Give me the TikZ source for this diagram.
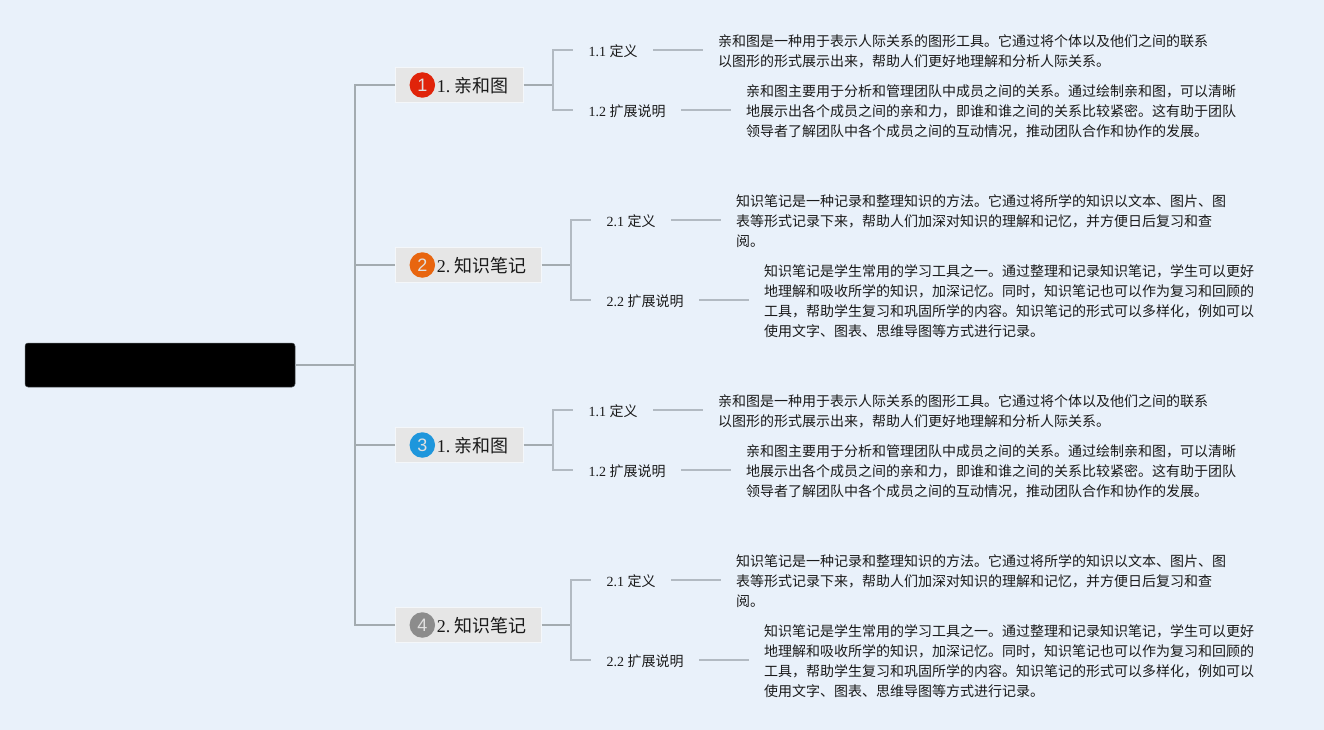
\documentclass[tikz,border=0pt]{standalone}
\usepackage{fontspec}
\setmainfont{Liberation Serif}
\newfontfamily\cjk{Noto Sans CJK SC}
\newfontfamily\badgefont{Liberation Sans}
\definecolor{bgc}{HTML}{E9F1FA}
\definecolor{trunkc}{HTML}{A3ABB0}
\definecolor{twigc}{HTML}{B2BAC2}
\definecolor{boxc}{HTML}{E6E6E6}
\definecolor{boxedge}{HTML}{F4F7FA}
\definecolor{inkc}{HTML}{1A1A1A}
\definecolor{bred}{HTML}{E0240A}
\definecolor{borange}{HTML}{E8650F}
\definecolor{bblue}{HTML}{1E96DC}
\definecolor{bgrey}{HTML}{8C8C8C}
\tikzset{
 trunkline/.style={draw=trunkc,line width=1.5pt},
 twigline/.style={draw=twigc,line width=1.5pt},
 topicbox/.style={fill=boxc,draw=boxedge,line width=1pt,minimum height=35pt,inner sep=0pt},
 badge/.style={circle,minimum size=25.5pt,inner sep=0pt,text=white!88!black,font=\badgefont\fontsize{18}{18}\selectfont},
 topictext/.style={anchor=base west,inner sep=0pt,text=inkc,font=\fontsize{18}{22}\selectfont},
 sublabel/.style={inner sep=0pt,text height=16pt,text depth=3pt,text=inkc,font=\fontsize{14}{18}\selectfont},
 bodytext/.style={anchor=west,inner xsep=15pt,inner ysep=0pt,align=left,text=inkc,font=\cjk\fontsize{14}{20}\selectfont},
}
\newcommand{\blockone}[3]{%
 \node[topicbox,minimum width=128pt] (#1t) at (459,85) {};
 \node[badge,fill=#2] (#1b) at (422.3,85) {#3};
 \node[topictext] (#1n) at (436.7,92.8) {1.\kern4.2pt{\cjk 亲和图}};
 \coordinate (#1h) at (553,85);
 \node[sublabel,minimum width=80pt] (#1a) at (613,50) {1.1 {\cjk 定义}};
 \node[sublabel,minimum width=108pt] (#1c) at (627,110) {1.2 {\cjk 扩展说明}};
 \node[bodytext] (#1x) at (703,51.3) {亲和图是一种用于表示人际关系的图形工具。它通过将个体以及他们之间的联系\\以图形的形式展示出来，帮助人们更好地理解和分析人际关系。};
 \node[bodytext] (#1y) at (731,111.3) {亲和图主要用于分析和管理团队中成员之间的关系。通过绘制亲和图，可以清晰\\地展示出各个成员之间的亲和力，即谁和谁之间的关系比较紧密。这有助于团队\\领导者了解团队中各个成员之间的互动情况，推动团队合作和协作的发展。};
 \draw[trunkline] (#1t.east) -- (#1h);
 \draw[twigline] (#1a.west) -| (#1h) |- (#1c.west);
 \draw[twigline] (#1a.east) -- (#1a.east -| #1x.west);
 \draw[twigline] (#1c.east) -- (#1c.east -| #1y.west);
}
\newcommand{\blocktwo}[3]{%
 \node[topicbox,minimum width=146pt] (#1t) at (468,265) {};
 \node[badge,fill=#2] (#1b) at (422.3,265) {#3};
 \node[topictext] (#1n) at (436.7,272.8) {2.\kern4.2pt{\cjk 知识笔记}};
 \coordinate (#1h) at (571,265);
 \node[sublabel,minimum width=80pt] (#1a) at (631,220) {2.1 {\cjk 定义}};
 \node[sublabel,minimum width=108pt] (#1c) at (645,300) {2.2 {\cjk 扩展说明}};
 \node[bodytext] (#1x) at (721,221.3) {知识笔记是一种记录和整理知识的方法。它通过将所学的知识以文本、图片、图\\表等形式记录下来，帮助人们加深对知识的理解和记忆，并方便日后复习和查\\阅。};
 \node[bodytext] (#1y) at (749,301.3) {知识笔记是学生常用的学习工具之一。通过整理和记录知识笔记，学生可以更好\\地理解和吸收所学的知识，加深记忆。同时，知识笔记也可以作为复习和回顾的\\工具，帮助学生复习和巩固所学的内容。知识笔记的形式可以多样化，例如可以\\使用文字、图表、思维导图等方式进行记录。};
 \draw[trunkline] (#1t.east) -- (#1h);
 \draw[twigline] (#1a.west) -| (#1h) |- (#1c.west);
 \draw[twigline] (#1a.east) -- (#1a.east -| #1x.west);
 \draw[twigline] (#1c.east) -- (#1c.east -| #1y.west);
}
\begin{document}
\begin{tikzpicture}[x=1pt,y=-1pt]
 \fill[bgc] (0,0) rectangle (1324,730);
 \useasboundingbox (0,0) rectangle (1324,730);
 \node[fill=black,draw=black!50!trunkc,line width=0.5pt,rounded corners=3pt,minimum width=270pt,minimum height=44pt,inner sep=0pt] (root) at (160,365) {};
 \coordinate (trunk) at (355,365);
 \blockone{A}{bred}{1}
 \blocktwo{B}{borange}{2}
 \begin{scope}[yshift=-360pt]
  \blockone{C}{bblue}{3}
  \blocktwo{D}{bgrey}{4}
 \end{scope}
 \draw[trunkline] (root.east) -- (trunk);
 \draw[trunkline] (At.west) -| (trunk) |- (Dt.west);
 \draw[trunkline] (Bt.west) -- (Bt.west -| trunk);
 \draw[trunkline] (Ct.west) -- (Ct.west -| trunk);
\end{tikzpicture}
\end{document}
